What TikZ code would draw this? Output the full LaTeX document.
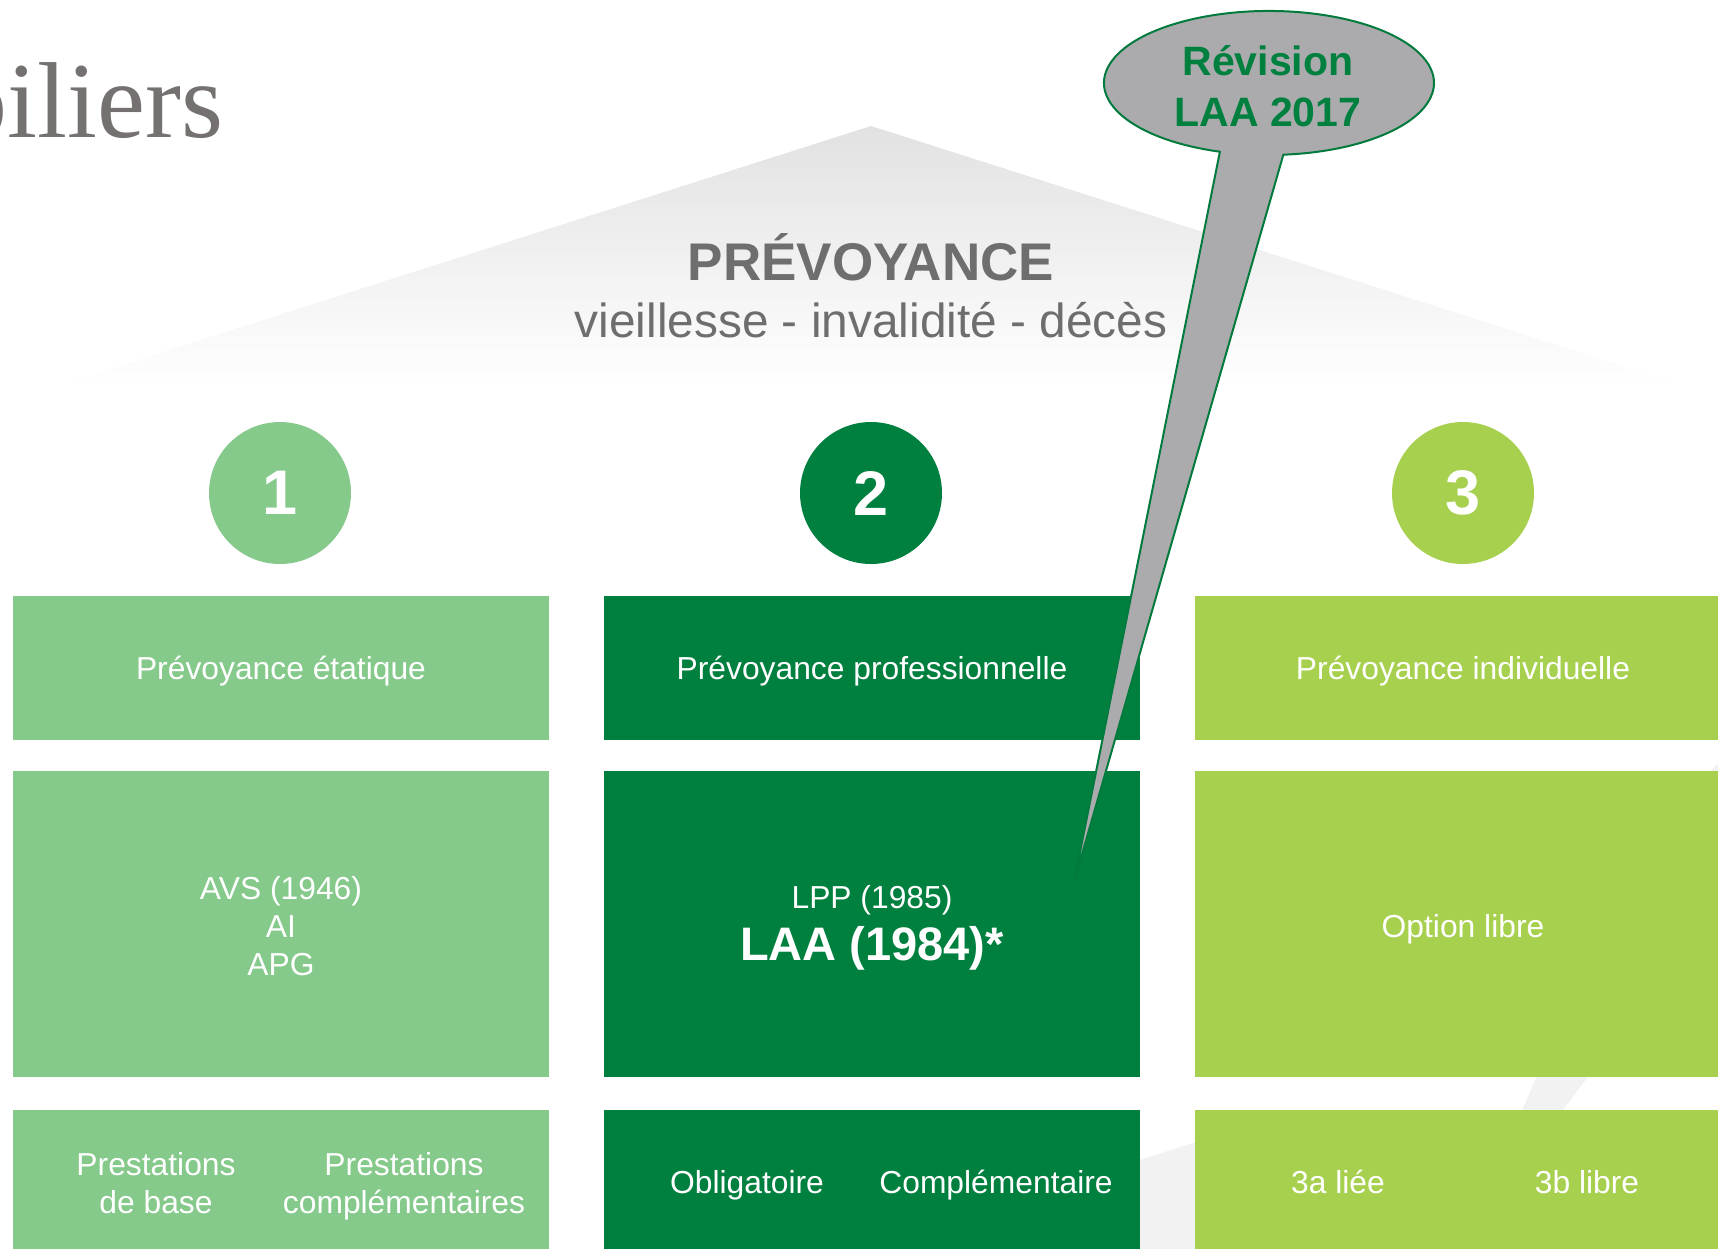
\documentclass[tikz,border=0pt]{standalone}
\usepackage{fontspec}
\setmainfont{Liberation Sans}
\newfontfamily\serifttl{Liberation Serif}
\definecolor{cOne}{RGB}{133,201,139}
\definecolor{cTwo}{RGB}{0,128,63}
\definecolor{cThree}{RGB}{167,208,78}
\definecolor{cCall}{RGB}{171,171,173}
\definecolor{cCallLine}{RGB}{0,122,61}
\definecolor{cTxtGray}{RGB}{110,110,110}
\definecolor{cTitle}{RGB}{118,113,113}
\definecolor{cSwoosh}{RGB}{242,242,242}
\definecolor{cRoof}{RGB}{226,226,226}
\begin{document}
\begin{tikzpicture}[x=0.5pt,y=-0.5pt,
  pbox/.style={rectangle, inner sep=0pt, outer sep=0pt, anchor=north west, minimum width=268pt},
  lbl/.style={text=white, font=\fontsize{15.9}{19}\selectfont, anchor=base, inner sep=0pt},
  bigl/.style={text=white, font=\bfseries\fontsize{23.5}{28}\selectfont, anchor=base, inner sep=0pt},
  num/.style={circle, inner sep=0pt, minimum size=71pt, text=white, font=\bfseries\fontsize{31.5}{36}\selectfont},
  calltxt/.style={text=cTwo, font=\bfseries\fontsize{20.5}{25}\selectfont, anchor=base, inner sep=0pt},
  callout/.style={fill=cCall, draw=cCallLine, line width=1pt, line join=round}
]
\useasboundingbox (0,0) rectangle (1718,1248);
\clip (0,0) rectangle (1718,1248);
% faint background swooshes
\fill[cSwoosh] (1790,680) -- (1711,771) .. controls (1640,842) and (1560,1000) .. (1536,1078) -- (1520,1115) -- (1475,1250) -- (1510,1250) -- (1563,1110) -- (1587,1078) .. controls (1650,990) and (1720,880) .. (1800,760) -- cycle;
\fill[cSwoosh] (950,1240) .. controls (1050,1190) and (1150,1150) .. (1300,1115) -- (1300,1260) -- (950,1260) -- cycle;
% roof with vertical fade to white
\begin{scope}
  \clip (44,390) -- (871,126) -- (1698,390) -- cycle;
  \foreach \i in {0,...,43} {
    \pgfmathsetmacro{\yy}{126+6*\i}
    \pgfmathsetmacro{\pp}{100*(1-\i/43)}
    \fill[cRoof!\pp!white] (0,\yy) rectangle (1718,\yy+7);
  }
\end{scope}
\node[anchor=base, text=cTxtGray, font=\bfseries\fontsize{26.5}{30}\selectfont, inner sep=0pt] (prev) at (871,280) {PRÉVOYANCE};
\node[anchor=base, text=cTxtGray, font=\fontsize{23.9}{28}\selectfont, inner sep=0pt] (risks) at (871,337) {vieillesse - invalidité - décès};
% title
\node[anchor=base east, text=cTitle, font=\serifttl\fontsize{54}{60}\selectfont, inner sep=0pt] (title) at (224,137) {piliers};
% numbered circles
\node[num, fill=cOne] (n1) at (280,493) {1};
\node[num, fill=cTwo] (n2) at (871,493) {2};
\node[num, fill=cThree] (n3) at (1463,493) {3};
% boxes row 1
\node[pbox, fill=cOne, minimum height=72pt] (a1) at (13,596) {};
\node[pbox, fill=cTwo, minimum height=72pt] (b1) at (604,596) {};
\node[pbox, fill=cThree, minimum height=72pt] (c1) at (1195,596) {};
% boxes row 2
\node[pbox, fill=cOne, minimum height=153pt] (a2) at (13,771) {};
\node[pbox, fill=cTwo, minimum height=153pt] (b2) at (604,771) {};
\node[pbox, fill=cThree, minimum height=153pt] (c2) at (1195,771) {};
% boxes row 3
\node[pbox, fill=cOne, minimum height=76pt] (a3) at (13,1110) {};
\node[pbox, fill=cTwo, minimum height=76pt] (b3) at (604,1110) {};
\node[pbox, fill=cThree, minimum height=76pt] (c3) at (1195,1110) {};
% row 1 labels
\node[lbl] (ta1) at (281,679) {Prévoyance étatique};
\node[lbl] (tb1) at (872,679) {Prévoyance professionnelle};
\node[lbl] (tc1) at (1463,679) {Prévoyance individuelle};
% row 2 labels
\node[lbl] (ta2a) at (281,899) {AVS (1946)};
\node[lbl] (ta2b) at (281,937) {AI};
\node[lbl] (ta2c) at (281,975) {APG};
\node[lbl] (tb2a) at (872,908) {LPP (1985)};
\node[bigl] (tb2b) at (872,960) {LAA (1984)*};
\node[lbl] (tc2) at (1463,937) {Option libre};
% row 3 labels
\node[lbl] (ta3a) at (156,1175) {Prestations};
\node[lbl] (ta3b) at (156,1213) {de base};
\node[lbl] (ta3c) at (404,1175) {Prestations};
\node[lbl] (ta3d) at (404,1213) {complémentaires};
\node[lbl] (tb3a) at (747,1193) {Obligatoire};
\node[lbl] (tb3b) at (996,1193) {Complémentaire};
\node[lbl] (tc3a) at (1338,1193) {3a liée};
\node[lbl] (tc3b) at (1587,1193) {3b libre};
% callout
\coordinate (tip) at (1074,882);
\path[callout] (tip) -- (1219.9,151.7) arc[start angle=107.3, end angle=445, x radius=165, y radius=72] -- cycle;
\node[calltxt] (rev1) at (1268,75) {Révision};
\node[calltxt] (rev2) at (1268,126) {LAA 2017};
\end{tikzpicture}
\end{document}
